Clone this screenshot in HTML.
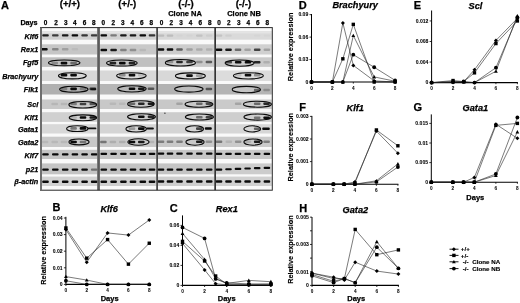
<!DOCTYPE html>
<html><head><meta charset="utf-8"><title>Figure</title>
<style>
html,body{margin:0;padding:0;background:#fff;}
body{width:520px;height:303px;overflow:hidden;}
svg{display:block;}
svg text{font-family:'Liberation Sans', Arial, Helvetica, sans-serif;fill:#000;stroke:#000;stroke-width:0.25px;}
</style></head><body>
<svg width="520" height="303" viewBox="0 0 520 303">
<rect width="520" height="303" fill="#fff"/>
<g>
<rect x="40.5" y="27.6" width="231.8" height="162.6" fill="#f9f9f9"/>
<rect x="41" y="31.2" width="56.2" height="8.5" fill="#d0d0d0"/>
<rect x="41" y="31.2" width="56.2" height="2.2" fill="#e4e4e4"/>
<rect x="99.8" y="31.2" width="56.5" height="8.5" fill="#d2d2d2"/>
<rect x="99.8" y="31.2" width="56.5" height="2.2" fill="#e4e4e4"/>
<rect x="157.9" y="31.2" width="56.4" height="8.5" fill="#d8d8d8"/>
<rect x="157.9" y="31.2" width="56.4" height="2.2" fill="#e4e4e4"/>
<rect x="216" y="31.2" width="55.8" height="8.5" fill="#dadada"/>
<rect x="216" y="31.2" width="55.8" height="2.2" fill="#e4e4e4"/>
<rect x="42.2" y="34.2" width="6.6" height="2.4" rx="1" fill="#000" fill-opacity="0.85"/>
<rect x="52" y="34.2" width="6.6" height="2.4" rx="1" fill="#000" fill-opacity="0.71"/>
<rect x="61.9" y="34.2" width="6.6" height="2.4" rx="1" fill="#000" fill-opacity="0.88"/>
<rect x="71.6" y="34.2" width="6.6" height="2.4" rx="1" fill="#000" fill-opacity="0.95"/>
<rect x="81.3" y="34.2" width="6.6" height="2.4" rx="1" fill="#000" fill-opacity="0.74"/>
<rect x="90.9" y="34.2" width="6.6" height="2.4" rx="1" fill="#000" fill-opacity="0.71"/>
<rect x="100.5" y="34.2" width="6.6" height="2.4" rx="1" fill="#000" fill-opacity="0.95"/>
<rect x="110.3" y="34.2" width="6.6" height="2.4" rx="1" fill="#000" fill-opacity="0.41"/>
<rect x="120.1" y="34.2" width="6.6" height="2.4" rx="1" fill="#000" fill-opacity="0.88"/>
<rect x="129.7" y="34.2" width="6.6" height="2.4" rx="1" fill="#000" fill-opacity="0.88"/>
<rect x="139.5" y="34.2" width="6.6" height="2.4" rx="1" fill="#000" fill-opacity="0.95"/>
<rect x="148.7" y="34.2" width="6.6" height="2.4" rx="1" fill="#000" fill-opacity="0.74"/>
<rect x="157.7" y="34.4" width="6.6" height="2.4" rx="1" fill="#000" fill-opacity="0.13"/>
<rect x="166.7" y="34.4" width="6.6" height="2.4" rx="1" fill="#000" fill-opacity="0.13"/>
<rect x="176.2" y="34.4" width="6.6" height="2.4" rx="1" fill="#000" fill-opacity="0.02"/>
<rect x="186.2" y="34.4" width="6.6" height="2.4" rx="1" fill="#000" fill-opacity="0.02"/>
<rect x="196" y="34.4" width="6.6" height="2.4" rx="1" fill="#000" fill-opacity="0.1"/>
<rect x="205.9" y="34.4" width="6.6" height="2.4" rx="1" fill="#000" fill-opacity="0.05"/>
<rect x="215.7" y="34.4" width="6.6" height="2.4" rx="1" fill="#000" fill-opacity="0.1"/>
<rect x="225.2" y="34.4" width="6.6" height="2.4" rx="1" fill="#000" fill-opacity="0.05"/>
<rect x="253.9" y="34.4" width="6.6" height="2.4" rx="1" fill="#000" fill-opacity="0.02"/>
<rect x="263.6" y="34.4" width="6.6" height="2.4" rx="1" fill="#000" fill-opacity="0.02"/>
<rect x="41" y="44.3" width="56.2" height="10.2" fill="#c6c6c6"/>
<rect x="99.8" y="44.3" width="56.5" height="10.2" fill="#c8c8c8"/>
<rect x="157.9" y="44.3" width="56.4" height="10.2" fill="#cccccc"/>
<rect x="216" y="44.3" width="55.8" height="10.2" fill="#d0d0d0"/>
<rect x="41.1" y="47.95" width="6.6" height="2.5" rx="1" fill="#000" fill-opacity="0.95"/>
<rect x="52" y="47.95" width="6.6" height="2.5" rx="1" fill="#000" fill-opacity="0.32"/>
<rect x="61.9" y="47.95" width="6.6" height="2.5" rx="1" fill="#000" fill-opacity="0.19"/>
<rect x="71.6" y="47.95" width="6.6" height="2.5" rx="1" fill="#000" fill-opacity="0.05"/>
<rect x="100.5" y="48.75" width="6.6" height="2.5" rx="1" fill="#000" fill-opacity="0.95"/>
<rect x="110.3" y="48.75" width="6.6" height="2.5" rx="1" fill="#000" fill-opacity="0.88"/>
<rect x="120.1" y="48.75" width="6.6" height="2.5" rx="1" fill="#000" fill-opacity="0.35"/>
<rect x="129.7" y="48.75" width="6.6" height="2.5" rx="1" fill="#000" fill-opacity="0.28"/>
<rect x="139.5" y="48.75" width="6.6" height="2.5" rx="1" fill="#000" fill-opacity="0.08"/>
<rect x="157.7" y="48.25" width="6.6" height="2.5" rx="1" fill="#000" fill-opacity="0.95"/>
<rect x="166.7" y="48.25" width="6.6" height="2.5" rx="1" fill="#000" fill-opacity="0.95"/>
<rect x="176.2" y="48.25" width="6.6" height="2.5" rx="1" fill="#000" fill-opacity="0.54"/>
<rect x="186.2" y="48.25" width="6.6" height="2.5" rx="1" fill="#000" fill-opacity="0.22"/>
<rect x="196" y="48.25" width="6.6" height="2.5" rx="1" fill="#000" fill-opacity="0.16"/>
<rect x="205.9" y="48.25" width="6.6" height="2.5" rx="1" fill="#000" fill-opacity="0.13"/>
<rect x="215.7" y="48.55" width="6.6" height="2.5" rx="1" fill="#000" fill-opacity="0.95"/>
<rect x="225.2" y="48.55" width="6.6" height="2.5" rx="1" fill="#000" fill-opacity="0.88"/>
<rect x="234.7" y="48.55" width="6.6" height="2.5" rx="1" fill="#000" fill-opacity="0.48"/>
<rect x="244.3" y="48.55" width="6.6" height="2.5" rx="1" fill="#000" fill-opacity="0.22"/>
<rect x="253.9" y="48.55" width="6.6" height="2.5" rx="1" fill="#000" fill-opacity="0.68"/>
<rect x="263.6" y="48.55" width="6.6" height="2.5" rx="1" fill="#000" fill-opacity="0.22"/>
<rect x="41" y="57.3" width="56.2" height="9.6" fill="#bebebe"/>
<rect x="99.8" y="57.3" width="56.5" height="9.6" fill="#c0c0c0"/>
<rect x="157.9" y="57.3" width="56.4" height="9.6" fill="#c8c8c8"/>
<rect x="216" y="57.3" width="55.8" height="9.6" fill="#cacaca"/>
<rect x="51.4" y="61.8" width="6.6" height="2.6" rx="1" fill="#000" fill-opacity="0.28"/>
<rect x="60.7" y="61.8" width="6.6" height="2.6" rx="1" fill="#000" fill-opacity="0.95"/>
<rect x="70.3" y="61.8" width="6.6" height="2.6" rx="1" fill="#000" fill-opacity="0.44"/>
<rect x="109.6" y="61.8" width="6.6" height="2.6" rx="1" fill="#000" fill-opacity="0.81"/>
<rect x="119" y="61.8" width="6.6" height="2.6" rx="1" fill="#000" fill-opacity="0.95"/>
<rect x="128.7" y="61.8" width="6.6" height="2.6" rx="1" fill="#000" fill-opacity="0.81"/>
<rect x="166.7" y="60.7" width="6.6" height="2.6" rx="1" fill="#000" fill-opacity="0.28"/>
<rect x="176.2" y="60.7" width="6.6" height="2.6" rx="1" fill="#000" fill-opacity="0.81"/>
<rect x="186.2" y="60.7" width="6.6" height="2.6" rx="1" fill="#000" fill-opacity="0.68"/>
<rect x="196" y="60.7" width="6.6" height="2.6" rx="1" fill="#000" fill-opacity="0.28"/>
<rect x="205.6" y="60.7" width="6.6" height="2.6" rx="1" fill="#000" fill-opacity="0.54"/>
<rect x="225.5" y="61" width="6.6" height="2.6" rx="1" fill="#000" fill-opacity="0.61"/>
<rect x="234.9" y="61" width="6.6" height="2.6" rx="1" fill="#000" fill-opacity="0.95"/>
<rect x="244.7" y="61" width="6.6" height="2.6" rx="1" fill="#000" fill-opacity="0.95"/>
<rect x="253.9" y="61" width="6.6" height="2.6" rx="1" fill="#000" fill-opacity="0.81"/>
<rect x="263.3" y="61" width="6.6" height="2.6" rx="1" fill="#000" fill-opacity="0.13"/>
<ellipse cx="64.2" cy="62.85" rx="15.75" ry="2.9" fill="none" stroke="#0a0a0a" stroke-width="1.05"/>
<ellipse cx="121.85" cy="63" rx="15.3" ry="3.05" fill="none" stroke="#0a0a0a" stroke-width="1.05"/>
<ellipse cx="180.4" cy="62.8" rx="15.05" ry="3.25" fill="none" stroke="#0a0a0a" stroke-width="1.05"/>
<ellipse cx="239.6" cy="63.1" rx="14.45" ry="3.15" fill="none" stroke="#0a0a0a" stroke-width="1.05"/>
<rect x="41" y="70.5" width="56.2" height="10.5" fill="#d8d8d8"/>
<rect x="99.8" y="70.5" width="56.5" height="10.5" fill="#d8d8d8"/>
<rect x="157.9" y="70.5" width="56.4" height="10.5" fill="#d8d8d8"/>
<rect x="216" y="70.5" width="55.8" height="10.5" fill="#dcdcdc"/>
<rect x="60.7" y="73.75" width="6.6" height="2.7" rx="1" fill="#000" fill-opacity="0.95"/>
<rect x="70.3" y="73.75" width="6.6" height="2.7" rx="1" fill="#000" fill-opacity="0.95"/>
<rect x="119" y="73.85" width="6.6" height="2.7" rx="1" fill="#000" fill-opacity="0.35"/>
<rect x="128.7" y="73.85" width="6.6" height="2.7" rx="1" fill="#000" fill-opacity="0.95"/>
<rect x="138" y="73.85" width="6.6" height="2.7" rx="1" fill="#000" fill-opacity="0.13"/>
<rect x="186.2" y="74.25" width="6.6" height="2.7" rx="1" fill="#000" fill-opacity="0.95"/>
<rect x="196" y="74.25" width="6.6" height="2.7" rx="1" fill="#000" fill-opacity="0.28"/>
<rect x="234.9" y="73.85" width="6.6" height="2.7" rx="1" fill="#000" fill-opacity="0.13"/>
<rect x="244.7" y="73.85" width="6.6" height="2.7" rx="1" fill="#000" fill-opacity="0.95"/>
<rect x="253.9" y="73.85" width="6.6" height="2.7" rx="1" fill="#000" fill-opacity="0.35"/>
<ellipse cx="72.35" cy="75.75" rx="13.9" ry="3.1" fill="none" stroke="#0a0a0a" stroke-width="1.05"/>
<ellipse cx="131.4" cy="75.8" rx="14.75" ry="3.15" fill="none" stroke="#0a0a0a" stroke-width="1.05"/>
<ellipse cx="190.4" cy="75.9" rx="14.95" ry="3.05" fill="none" stroke="#0a0a0a" stroke-width="1.05"/>
<ellipse cx="248.4" cy="75.8" rx="14.95" ry="3.15" fill="none" stroke="#0a0a0a" stroke-width="1.05"/>
<rect x="41" y="84" width="56.2" height="10.5" fill="#b0b0b0"/>
<rect x="99.8" y="84" width="56.5" height="10.5" fill="#b6b6b6"/>
<rect x="157.9" y="84" width="56.4" height="10.5" fill="#b2b2b2"/>
<rect x="216" y="84" width="55.8" height="10.5" fill="#b4b4b4"/>
<ellipse cx="188.85" cy="89.1" rx="14.25" ry="3.1" fill="#bcbcbc"/>
<ellipse cx="246.35" cy="89.55" rx="14.15" ry="3.25" fill="#c4c4c4"/>
<rect x="60.7" y="87.6" width="6.6" height="2.6" rx="1" fill="#000" fill-opacity="0.28"/>
<rect x="70.3" y="87.6" width="6.6" height="2.6" rx="1" fill="#000" fill-opacity="0.95"/>
<rect x="79.7" y="87.6" width="6.6" height="2.6" rx="1" fill="#000" fill-opacity="0.28"/>
<rect x="89.5" y="87.6" width="6.6" height="2.6" rx="1" fill="#000" fill-opacity="0.74"/>
<rect x="128.7" y="87.4" width="6.6" height="2.6" rx="1" fill="#000" fill-opacity="0.95"/>
<rect x="138" y="87.4" width="6.6" height="2.6" rx="1" fill="#000" fill-opacity="0.88"/>
<rect x="147.7" y="87.4" width="6.6" height="2.6" rx="1" fill="#000" fill-opacity="0.54"/>
<rect x="205.6" y="87.7" width="6.6" height="2.6" rx="1" fill="#000" fill-opacity="0.54"/>
<rect x="253.9" y="88.7" width="6.6" height="2.6" rx="1" fill="#000" fill-opacity="0.48"/>
<rect x="263.3" y="88.7" width="6.6" height="2.6" rx="1" fill="#000" fill-opacity="0.22"/>
<ellipse cx="73.85" cy="89.25" rx="14.2" ry="3" fill="none" stroke="#0a0a0a" stroke-width="1.05"/>
<ellipse cx="131.95" cy="88.85" rx="14.2" ry="3.1" fill="none" stroke="#0a0a0a" stroke-width="1.05"/>
<ellipse cx="188.85" cy="89.1" rx="14.2" ry="3.05" fill="none" stroke="#0a0a0a" stroke-width="1.05"/>
<ellipse cx="246.35" cy="89.55" rx="14.1" ry="3.2" fill="none" stroke="#0a0a0a" stroke-width="1.05"/>
<rect x="41" y="99.5" width="56.2" height="9.5" fill="#c8c8c8"/>
<rect x="99.8" y="99.5" width="56.5" height="9.5" fill="#c8c8c8"/>
<rect x="157.9" y="99.5" width="56.4" height="9.5" fill="#c8c8c8"/>
<rect x="216" y="99.5" width="55.8" height="9.5" fill="#cacaca"/>
<rect x="51.4" y="102.75" width="6.6" height="2.5" rx="1" fill="#000" fill-opacity="0.09"/>
<rect x="60.7" y="102.75" width="6.6" height="2.5" rx="1" fill="#000" fill-opacity="0.09"/>
<rect x="70.3" y="102.75" width="6.6" height="2.5" rx="1" fill="#000" fill-opacity="0.38"/>
<rect x="79.7" y="102.75" width="6.6" height="2.5" rx="1" fill="#000" fill-opacity="0.68"/>
<rect x="89.5" y="102.75" width="6.6" height="2.5" rx="1" fill="#000" fill-opacity="0.57"/>
<rect x="109.6" y="102.45" width="6.6" height="2.5" rx="1" fill="#000" fill-opacity="0.08"/>
<rect x="119" y="102.45" width="6.6" height="2.5" rx="1" fill="#000" fill-opacity="0.08"/>
<rect x="128.7" y="102.45" width="6.6" height="2.5" rx="1" fill="#000" fill-opacity="0.48"/>
<rect x="138" y="102.45" width="6.6" height="2.5" rx="1" fill="#000" fill-opacity="0.81"/>
<rect x="147.7" y="102.45" width="6.6" height="2.5" rx="1" fill="#000" fill-opacity="0.88"/>
<rect x="176.2" y="102.45" width="6.6" height="2.5" rx="1" fill="#000" fill-opacity="0.19"/>
<rect x="196" y="102.45" width="6.6" height="2.5" rx="1" fill="#000" fill-opacity="0.48"/>
<rect x="205.6" y="102.45" width="6.6" height="2.5" rx="1" fill="#000" fill-opacity="0.64"/>
<rect x="234.9" y="102.45" width="6.6" height="2.5" rx="1" fill="#000" fill-opacity="0.19"/>
<rect x="253.9" y="102.45" width="6.6" height="2.5" rx="1" fill="#000" fill-opacity="0.48"/>
<rect x="263.3" y="102.45" width="6.6" height="2.5" rx="1" fill="#000" fill-opacity="0.81"/>
<ellipse cx="82.75" cy="104.75" rx="13.9" ry="3.2" fill="none" stroke="#0a0a0a" stroke-width="1.05"/>
<ellipse cx="140.9" cy="103.95" rx="13.35" ry="3.2" fill="none" stroke="#0a0a0a" stroke-width="1.05"/>
<ellipse cx="198.95" cy="104.15" rx="13.9" ry="3" fill="none" stroke="#0a0a0a" stroke-width="1.05"/>
<ellipse cx="257.4" cy="104.15" rx="14.05" ry="3" fill="none" stroke="#0a0a0a" stroke-width="1.05"/>
<rect x="41" y="112.2" width="56.2" height="9.7" fill="#d0d0d0"/>
<rect x="99.8" y="112.2" width="56.5" height="9.7" fill="#cccccc"/>
<rect x="157.9" y="112.2" width="56.4" height="9.7" fill="#cccccc"/>
<rect x="216" y="112.2" width="55.8" height="9.7" fill="#cecece"/>
<rect x="70.3" y="116.25" width="6.6" height="2.5" rx="1" fill="#000" fill-opacity="0.13"/>
<rect x="79.7" y="116.25" width="6.6" height="2.5" rx="1" fill="#000" fill-opacity="0.95"/>
<rect x="89.5" y="116.25" width="6.6" height="2.5" rx="1" fill="#000" fill-opacity="0.88"/>
<rect x="138" y="115.55" width="6.6" height="2.5" rx="1" fill="#000" fill-opacity="0.95"/>
<rect x="147.7" y="115.55" width="6.6" height="2.5" rx="1" fill="#000" fill-opacity="0.81"/>
<rect x="196" y="115.95" width="6.6" height="2.5" rx="1" fill="#000" fill-opacity="0.48"/>
<rect x="205.6" y="115.95" width="6.6" height="2.5" rx="1" fill="#000" fill-opacity="0.68"/>
<rect x="253.9" y="116.45" width="6.6" height="2.5" rx="1" fill="#000" fill-opacity="0.44"/>
<rect x="263.3" y="116.45" width="6.6" height="2.5" rx="1" fill="#000" fill-opacity="0.95"/>
<ellipse cx="82.95" cy="117.75" rx="13.7" ry="2.9" fill="none" stroke="#0a0a0a" stroke-width="1.05"/>
<ellipse cx="141.5" cy="116.85" rx="13.95" ry="3.1" fill="none" stroke="#0a0a0a" stroke-width="1.05"/>
<ellipse cx="199.4" cy="117" rx="14.05" ry="2.95" fill="none" stroke="#0a0a0a" stroke-width="1.05"/>
<ellipse cx="257.65" cy="117.1" rx="13.8" ry="3.05" fill="none" stroke="#0a0a0a" stroke-width="1.05"/>
<rect x="41" y="124.2" width="56.2" height="9.3" fill="#d8d8d8"/>
<rect x="99.8" y="124.2" width="56.5" height="9.3" fill="#d4d4d4"/>
<rect x="157.9" y="124.2" width="56.4" height="9.3" fill="#d4d4d4"/>
<rect x="216" y="124.2" width="55.8" height="9.3" fill="#d6d6d6"/>
<rect x="70.3" y="127.1" width="6.6" height="2.6" rx="1" fill="#000" fill-opacity="0.44"/>
<rect x="79.7" y="127.1" width="6.6" height="2.6" rx="1" fill="#000" fill-opacity="0.95"/>
<rect x="128.7" y="127.3" width="6.6" height="2.6" rx="1" fill="#000" fill-opacity="0.28"/>
<rect x="138" y="127.3" width="6.6" height="2.6" rx="1" fill="#000" fill-opacity="0.95"/>
<rect x="196" y="127.3" width="6.6" height="2.6" rx="1" fill="#000" fill-opacity="0.68"/>
<rect x="253.9" y="127.5" width="6.6" height="2.6" rx="1" fill="#000" fill-opacity="0.54"/>
<ellipse cx="77.3" cy="128.65" rx="10.75" ry="2.9" fill="none" stroke="#0a0a0a" stroke-width="1.05"/>
<ellipse cx="136.15" cy="128.9" rx="10.3" ry="3.05" fill="none" stroke="#0a0a0a" stroke-width="1.05"/>
<ellipse cx="194.55" cy="128.9" rx="9" ry="3.05" fill="none" stroke="#0a0a0a" stroke-width="1.05"/>
<ellipse cx="252.3" cy="128.9" rx="8.45" ry="3.05" fill="none" stroke="#0a0a0a" stroke-width="1.05"/>
<rect x="41" y="136.7" width="56.2" height="10.3" fill="#c8c8c8"/>
<rect x="99.8" y="136.7" width="56.5" height="10.3" fill="#c8c8c8"/>
<rect x="157.9" y="136.7" width="56.4" height="10.3" fill="#c8c8c8"/>
<rect x="216" y="136.7" width="55.8" height="10.3" fill="#cacaca"/>
<rect x="41.7" y="140.75" width="6.6" height="2.5" rx="1" fill="#000" fill-opacity="0.08"/>
<rect x="51.4" y="140.75" width="6.6" height="2.5" rx="1" fill="#000" fill-opacity="0.08"/>
<rect x="60.7" y="140.75" width="6.6" height="2.5" rx="1" fill="#000" fill-opacity="0.08"/>
<rect x="70.3" y="140.75" width="6.6" height="2.5" rx="1" fill="#000" fill-opacity="0.95"/>
<rect x="79.7" y="140.75" width="6.6" height="2.5" rx="1" fill="#000" fill-opacity="0.41"/>
<rect x="100.1" y="140.75" width="6.6" height="2.5" rx="1" fill="#000" fill-opacity="0.41"/>
<rect x="109.6" y="140.75" width="6.6" height="2.5" rx="1" fill="#000" fill-opacity="0.13"/>
<rect x="119" y="140.75" width="6.6" height="2.5" rx="1" fill="#000" fill-opacity="0.13"/>
<rect x="128.7" y="140.75" width="6.6" height="2.5" rx="1" fill="#000" fill-opacity="0.95"/>
<rect x="138" y="140.75" width="6.6" height="2.5" rx="1" fill="#000" fill-opacity="0.88"/>
<rect x="147.7" y="140.75" width="6.6" height="2.5" rx="1" fill="#000" fill-opacity="0.1"/>
<rect x="157.7" y="140.45" width="6.6" height="2.5" rx="1" fill="#000" fill-opacity="0.38"/>
<rect x="166.7" y="140.45" width="6.6" height="2.5" rx="1" fill="#000" fill-opacity="0.38"/>
<rect x="176.2" y="140.45" width="6.6" height="2.5" rx="1" fill="#000" fill-opacity="0.38"/>
<rect x="196" y="140.45" width="6.6" height="2.5" rx="1" fill="#000" fill-opacity="0.88"/>
<rect x="205.6" y="140.45" width="6.6" height="2.5" rx="1" fill="#000" fill-opacity="0.28"/>
<rect x="215.7" y="140.45" width="6.6" height="2.5" rx="1" fill="#000" fill-opacity="0.41"/>
<rect x="225.5" y="140.45" width="6.6" height="2.5" rx="1" fill="#000" fill-opacity="0.1"/>
<rect x="234.9" y="140.45" width="6.6" height="2.5" rx="1" fill="#000" fill-opacity="0.28"/>
<rect x="244.7" y="140.45" width="6.6" height="2.5" rx="1" fill="#000" fill-opacity="0.13"/>
<rect x="253.9" y="140.45" width="6.6" height="2.5" rx="1" fill="#000" fill-opacity="0.88"/>
<rect x="263.3" y="140.45" width="6.6" height="2.5" rx="1" fill="#000" fill-opacity="0.38"/>
<ellipse cx="79" cy="141.95" rx="10.15" ry="2.9" fill="none" stroke="#0a0a0a" stroke-width="1.05"/>
<ellipse cx="138.45" cy="141.95" rx="10.6" ry="3.2" fill="none" stroke="#0a0a0a" stroke-width="1.05"/>
<ellipse cx="195" cy="142.1" rx="9.15" ry="3.05" fill="none" stroke="#0a0a0a" stroke-width="1.05"/>
<ellipse cx="253" cy="142.1" rx="9.15" ry="3.05" fill="none" stroke="#0a0a0a" stroke-width="1.05"/>
<rect x="41" y="149.8" width="56.2" height="9.2" fill="#c4c4c4"/>
<rect x="99.8" y="149.8" width="56.5" height="9.2" fill="#c4c4c4"/>
<rect x="157.9" y="149.8" width="56.4" height="9.2" fill="#c6c6c6"/>
<rect x="216" y="149.8" width="55.8" height="9.2" fill="#c8c8c8"/>
<rect x="42.2" y="153.2" width="6.6" height="2.2" rx="1" fill="#000" fill-opacity="0.95"/>
<rect x="52" y="153.2" width="6.6" height="2.2" rx="1" fill="#000" fill-opacity="0.95"/>
<rect x="61.9" y="153.2" width="6.6" height="2.2" rx="1" fill="#000" fill-opacity="0.95"/>
<rect x="71.6" y="153.2" width="6.6" height="2.2" rx="1" fill="#000" fill-opacity="0.95"/>
<rect x="81.3" y="153.2" width="6.6" height="2.2" rx="1" fill="#000" fill-opacity="0.95"/>
<rect x="90.9" y="153.2" width="6.6" height="2.2" rx="1" fill="#000" fill-opacity="0.95"/>
<rect x="100.5" y="152.7" width="6.6" height="2.2" rx="1" fill="#000" fill-opacity="0.95"/>
<rect x="110.3" y="152.7" width="6.6" height="2.2" rx="1" fill="#000" fill-opacity="0.95"/>
<rect x="120.1" y="152.7" width="6.6" height="2.2" rx="1" fill="#000" fill-opacity="0.95"/>
<rect x="129.7" y="152.7" width="6.6" height="2.2" rx="1" fill="#000" fill-opacity="0.95"/>
<rect x="139.5" y="152.7" width="6.6" height="2.2" rx="1" fill="#000" fill-opacity="0.95"/>
<rect x="148.7" y="152.7" width="6.6" height="2.2" rx="1" fill="#000" fill-opacity="0.95"/>
<rect x="157.7" y="152.5" width="6.6" height="2.2" rx="1" fill="#000" fill-opacity="0.95"/>
<rect x="166.7" y="152.5" width="6.6" height="2.2" rx="1" fill="#000" fill-opacity="0.95"/>
<rect x="176.2" y="152.5" width="6.6" height="2.2" rx="1" fill="#000" fill-opacity="0.95"/>
<rect x="186.2" y="152.5" width="6.6" height="2.2" rx="1" fill="#000" fill-opacity="0.95"/>
<rect x="196" y="152.5" width="6.6" height="2.2" rx="1" fill="#000" fill-opacity="0.95"/>
<rect x="205.9" y="152.5" width="6.6" height="2.2" rx="1" fill="#000" fill-opacity="0.95"/>
<rect x="215.7" y="152.7" width="6.6" height="2.2" rx="1" fill="#000" fill-opacity="0.95"/>
<rect x="225.2" y="152.7" width="6.6" height="2.2" rx="1" fill="#000" fill-opacity="0.95"/>
<rect x="234.7" y="152.7" width="6.6" height="2.2" rx="1" fill="#000" fill-opacity="0.95"/>
<rect x="244.3" y="152.7" width="6.6" height="2.2" rx="1" fill="#000" fill-opacity="0.95"/>
<rect x="253.9" y="152.7" width="6.6" height="2.2" rx="1" fill="#000" fill-opacity="0.95"/>
<rect x="263.6" y="152.7" width="6.6" height="2.2" rx="1" fill="#000" fill-opacity="0.95"/>
<rect x="41" y="163.4" width="56.2" height="10.9" fill="#c4c4c4"/>
<rect x="99.8" y="163.4" width="56.5" height="10.9" fill="#c2c2c2"/>
<rect x="157.9" y="163.4" width="56.4" height="10.9" fill="#c4c4c4"/>
<rect x="216" y="163.4" width="55.8" height="10.9" fill="#cccccc"/>
<rect x="42.2" y="168.5" width="6.6" height="2.2" rx="1" fill="#000" fill-opacity="0.95"/>
<rect x="52" y="168.5" width="6.6" height="2.2" rx="1" fill="#000" fill-opacity="0.95"/>
<rect x="61.9" y="168.5" width="6.6" height="2.2" rx="1" fill="#000" fill-opacity="0.95"/>
<rect x="71.6" y="168.5" width="6.6" height="2.2" rx="1" fill="#000" fill-opacity="0.95"/>
<rect x="81.3" y="168.5" width="6.6" height="2.2" rx="1" fill="#000" fill-opacity="0.95"/>
<rect x="90.9" y="168.5" width="6.6" height="2.2" rx="1" fill="#000" fill-opacity="0.44"/>
<rect x="100.5" y="168.5" width="6.6" height="2.2" rx="1" fill="#000" fill-opacity="0.95"/>
<rect x="110.3" y="168.5" width="6.6" height="2.2" rx="1" fill="#000" fill-opacity="0.95"/>
<rect x="120.1" y="168.5" width="6.6" height="2.2" rx="1" fill="#000" fill-opacity="0.95"/>
<rect x="129.7" y="168.5" width="6.6" height="2.2" rx="1" fill="#000" fill-opacity="0.95"/>
<rect x="139.5" y="168.5" width="6.6" height="2.2" rx="1" fill="#000" fill-opacity="0.95"/>
<rect x="148.7" y="168.5" width="6.6" height="2.2" rx="1" fill="#000" fill-opacity="0.95"/>
<rect x="157.7" y="168.5" width="6.6" height="2.2" rx="1" fill="#000" fill-opacity="0.95"/>
<rect x="166.7" y="168.5" width="6.6" height="2.2" rx="1" fill="#000" fill-opacity="0.95"/>
<rect x="176.2" y="168.5" width="6.6" height="2.2" rx="1" fill="#000" fill-opacity="0.95"/>
<rect x="186.2" y="168.5" width="6.6" height="2.2" rx="1" fill="#000" fill-opacity="0.95"/>
<rect x="196" y="168.5" width="6.6" height="2.2" rx="1" fill="#000" fill-opacity="0.95"/>
<rect x="205.9" y="168.5" width="6.6" height="2.2" rx="1" fill="#000" fill-opacity="0.95"/>
<rect x="215.7" y="168.5" width="6.6" height="2.2" rx="1" fill="#000" fill-opacity="0.95"/>
<rect x="225.2" y="168.14" width="6.6" height="2.2" rx="1" fill="#000" fill-opacity="0.95"/>
<rect x="234.7" y="167.78" width="6.6" height="2.2" rx="1" fill="#000" fill-opacity="0.95"/>
<rect x="244.3" y="167.42" width="6.6" height="2.2" rx="1" fill="#000" fill-opacity="0.95"/>
<rect x="253.9" y="167.06" width="6.6" height="2.2" rx="1" fill="#000" fill-opacity="0.95"/>
<rect x="263.6" y="166.7" width="6.6" height="2.2" rx="1" fill="#000" fill-opacity="0.95"/>
<rect x="41" y="176.6" width="56.2" height="9.4" fill="#d2d2d2"/>
<rect x="99.8" y="176.6" width="56.5" height="9.4" fill="#cecece"/>
<rect x="157.9" y="176.6" width="56.4" height="9.4" fill="#cecece"/>
<rect x="216" y="176.6" width="55.8" height="9.4" fill="#d0d0d0"/>
<rect x="42.2" y="180.45" width="6.6" height="2.5" rx="1" fill="#000" fill-opacity="0.95"/>
<rect x="52" y="180.45" width="6.6" height="2.5" rx="1" fill="#000" fill-opacity="0.95"/>
<rect x="61.9" y="180.45" width="6.6" height="2.5" rx="1" fill="#000" fill-opacity="0.95"/>
<rect x="71.6" y="180.45" width="6.6" height="2.5" rx="1" fill="#000" fill-opacity="0.95"/>
<rect x="81.3" y="180.45" width="6.6" height="2.5" rx="1" fill="#000" fill-opacity="0.95"/>
<rect x="90.9" y="180.45" width="6.6" height="2.5" rx="1" fill="#000" fill-opacity="0.95"/>
<rect x="100.5" y="180.45" width="6.6" height="2.5" rx="1" fill="#000" fill-opacity="0.95"/>
<rect x="110.3" y="180.45" width="6.6" height="2.5" rx="1" fill="#000" fill-opacity="0.95"/>
<rect x="120.1" y="180.45" width="6.6" height="2.5" rx="1" fill="#000" fill-opacity="0.95"/>
<rect x="129.7" y="180.45" width="6.6" height="2.5" rx="1" fill="#000" fill-opacity="0.95"/>
<rect x="139.5" y="180.45" width="6.6" height="2.5" rx="1" fill="#000" fill-opacity="0.95"/>
<rect x="148.7" y="180.45" width="6.6" height="2.5" rx="1" fill="#000" fill-opacity="0.95"/>
<rect x="157.7" y="180.35" width="6.6" height="2.5" rx="1" fill="#000" fill-opacity="0.95"/>
<rect x="166.7" y="180.35" width="6.6" height="2.5" rx="1" fill="#000" fill-opacity="0.95"/>
<rect x="176.2" y="180.35" width="6.6" height="2.5" rx="1" fill="#000" fill-opacity="0.95"/>
<rect x="186.2" y="180.35" width="6.6" height="2.5" rx="1" fill="#000" fill-opacity="0.95"/>
<rect x="196" y="180.35" width="6.6" height="2.5" rx="1" fill="#000" fill-opacity="0.95"/>
<rect x="205.9" y="180.35" width="6.6" height="2.5" rx="1" fill="#000" fill-opacity="0.95"/>
<rect x="215.7" y="180.35" width="6.6" height="2.5" rx="1" fill="#000" fill-opacity="0.95"/>
<rect x="225.2" y="180.35" width="6.6" height="2.5" rx="1" fill="#000" fill-opacity="0.95"/>
<rect x="234.7" y="180.35" width="6.6" height="2.5" rx="1" fill="#000" fill-opacity="0.95"/>
<rect x="244.3" y="180.35" width="6.6" height="2.5" rx="1" fill="#000" fill-opacity="0.95"/>
<rect x="253.9" y="180.35" width="6.6" height="2.5" rx="1" fill="#000" fill-opacity="0.95"/>
<rect x="263.6" y="180.35" width="6.6" height="2.5" rx="1" fill="#000" fill-opacity="0.95"/>
<rect x="87.6" y="127.45" width="8.8" height="1.9" rx="1" fill="#000" fill-opacity="0.92"/>
<rect x="146.4" y="127.6" width="7.5" height="2" rx="1" fill="#000" fill-opacity="0.92"/>
<rect x="204.8" y="127.35" width="7" height="2.5" rx="1" fill="#000" fill-opacity="0.95"/>
<rect x="262.2" y="127.55" width="7.6" height="2.5" rx="1" fill="#000" fill-opacity="0.95"/>
<rect x="90.9" y="88.3" width="5.4" height="2" rx="1" fill="#000" fill-opacity="0.6"/>
<rect x="164.2" y="112.55" width="1.4" height="1.3" rx="1" fill="#000" fill-opacity="0.8"/>
<rect x="97.2" y="27.6" width="2.7" height="162.6" fill="#5a5a5a"/>
<rect x="156.3" y="27.6" width="1.6" height="162.6" fill="#333"/>
<rect x="214.3" y="27.6" width="1.7" height="162.6" fill="#333"/>
<rect x="40.5" y="27.6" width="231.8" height="162.6" fill="none" stroke="#2a2a2a" stroke-width="1"/>
<rect x="40.0" y="27.6" width="2.0" height="162.6" fill="#6e6e6e"/>
</g>
<text x="38.3" y="38.9" font-size="7.3" font-weight="bold" font-style="italic" text-anchor="end">Klf6</text>
<text x="38.3" y="52.4" font-size="7.3" font-weight="bold" font-style="italic" text-anchor="end">Rex1</text>
<text x="38.3" y="64.8" font-size="7.3" font-weight="bold" font-style="italic" text-anchor="end">Fgf5</text>
<text x="38.3" y="78.5" font-size="7.3" font-weight="bold" font-style="italic" text-anchor="end">Brachyury</text>
<text x="38.3" y="92.4" font-size="7.3" font-weight="bold" font-style="italic" text-anchor="end">Flk1</text>
<text x="38.3" y="107.2" font-size="7.3" font-weight="bold" font-style="italic" text-anchor="end">Scl</text>
<text x="38.3" y="119.7" font-size="7.3" font-weight="bold" font-style="italic" text-anchor="end">Klf1</text>
<text x="38.3" y="131.9" font-size="7.3" font-weight="bold" font-style="italic" text-anchor="end">Gata1</text>
<text x="38.3" y="144.6" font-size="7.3" font-weight="bold" font-style="italic" text-anchor="end">Gata2</text>
<text x="38.3" y="157.8" font-size="7.3" font-weight="bold" font-style="italic" text-anchor="end">Klf7</text>
<text x="38.3" y="172" font-size="7.3" font-weight="bold" font-style="italic" text-anchor="end">p21</text>
<text x="38.3" y="184.2" font-size="7.3" font-weight="bold" font-style="italic" text-anchor="end">&#946;-actin</text>
<text x="1" y="9.2" font-size="11" font-weight="bold" text-anchor="start">A</text>
<text x="37.6" y="24.9" font-size="7.2" font-weight="bold" text-anchor="end">Days</text>
<text x="45.5" y="24.9" font-size="6.4" font-weight="bold" text-anchor="middle">0</text>
<text x="56" y="24.9" font-size="6.4" font-weight="bold" text-anchor="middle">2</text>
<text x="65.7" y="24.9" font-size="6.4" font-weight="bold" text-anchor="middle">3</text>
<text x="74.7" y="24.9" font-size="6.4" font-weight="bold" text-anchor="middle">4</text>
<text x="84.5" y="24.9" font-size="6.4" font-weight="bold" text-anchor="middle">6</text>
<text x="93.8" y="24.9" font-size="6.4" font-weight="bold" text-anchor="middle">8</text>
<text x="103.3" y="24.9" font-size="6.4" font-weight="bold" text-anchor="middle">0</text>
<text x="113.3" y="24.9" font-size="6.4" font-weight="bold" text-anchor="middle">2</text>
<text x="122.7" y="24.9" font-size="6.4" font-weight="bold" text-anchor="middle">3</text>
<text x="132.2" y="24.9" font-size="6.4" font-weight="bold" text-anchor="middle">4</text>
<text x="141.8" y="24.9" font-size="6.4" font-weight="bold" text-anchor="middle">6</text>
<text x="151.3" y="24.9" font-size="6.4" font-weight="bold" text-anchor="middle">8</text>
<text x="161.6" y="24.9" font-size="6.4" font-weight="bold" text-anchor="middle">0</text>
<text x="171.4" y="24.9" font-size="6.4" font-weight="bold" text-anchor="middle">2</text>
<text x="181" y="24.9" font-size="6.4" font-weight="bold" text-anchor="middle">3</text>
<text x="190.5" y="24.9" font-size="6.4" font-weight="bold" text-anchor="middle">4</text>
<text x="200.3" y="24.9" font-size="6.4" font-weight="bold" text-anchor="middle">6</text>
<text x="209.8" y="24.9" font-size="6.4" font-weight="bold" text-anchor="middle">8</text>
<text x="219.1" y="24.9" font-size="6.4" font-weight="bold" text-anchor="middle">0</text>
<text x="228.9" y="24.9" font-size="6.4" font-weight="bold" text-anchor="middle">2</text>
<text x="238.7" y="24.9" font-size="6.4" font-weight="bold" text-anchor="middle">3</text>
<text x="248.3" y="24.9" font-size="6.4" font-weight="bold" text-anchor="middle">4</text>
<text x="257.8" y="24.9" font-size="6.4" font-weight="bold" text-anchor="middle">6</text>
<text x="267.2" y="24.9" font-size="6.4" font-weight="bold" text-anchor="middle">8</text>
<text x="69.9" y="7" font-size="9.6" font-weight="bold" text-anchor="middle">(+/+)</text>
<text x="127.3" y="7" font-size="9.6" font-weight="bold" text-anchor="middle">(+/-)</text>
<text x="186" y="7" font-size="9.6" font-weight="bold" text-anchor="middle">(-/-)</text>
<text x="243.4" y="7" font-size="9.6" font-weight="bold" text-anchor="middle">(-/-)</text>
<text x="185" y="16.2" font-size="7.5" font-weight="bold" text-anchor="middle">Clone NA</text>
<text x="244" y="16.2" font-size="7.5" font-weight="bold" text-anchor="middle">Clone NB</text>
<text x="52.6" y="211.3" font-size="11" font-weight="bold" text-anchor="start">B</text>
<text x="100.4" y="211.8" font-size="9.2" font-weight="bold" font-style="italic" text-anchor="start">Klf6</text>
<line x1="65.9" y1="216.8" x2="65.9" y2="284.4" stroke="#000" stroke-width="1"/>
<line x1="65.9" y1="284.4" x2="149.76" y2="284.4" stroke="#000" stroke-width="1.1"/>
<line x1="63.9" y1="218" x2="65.9" y2="218" stroke="#000" stroke-width="0.8"/>
<text x="62.7" y="219.8" font-size="5.1" font-weight="bold" text-anchor="end" style="stroke-width:0.05px">0.04</text>
<line x1="63.9" y1="234.6" x2="65.9" y2="234.6" stroke="#000" stroke-width="0.8"/>
<text x="62.7" y="236.4" font-size="5.1" font-weight="bold" text-anchor="end" style="stroke-width:0.05px">0.03</text>
<line x1="63.9" y1="251.2" x2="65.9" y2="251.2" stroke="#000" stroke-width="0.8"/>
<text x="62.7" y="253" font-size="5.1" font-weight="bold" text-anchor="end" style="stroke-width:0.05px">0.02</text>
<line x1="63.9" y1="267.8" x2="65.9" y2="267.8" stroke="#000" stroke-width="0.8"/>
<text x="62.7" y="269.6" font-size="5.1" font-weight="bold" text-anchor="end" style="stroke-width:0.05px">0.01</text>
<line x1="63.9" y1="284.4" x2="65.9" y2="284.4" stroke="#000" stroke-width="0.8"/>
<text x="62.7" y="286.2" font-size="5.1" font-weight="bold" text-anchor="end" style="stroke-width:0.05px">0</text>
<line x1="65.9" y1="284.4" x2="65.9" y2="286" stroke="#000" stroke-width="0.8"/>
<text x="65.9" y="292.2" font-size="4.7" font-weight="bold" text-anchor="middle" style="stroke-width:0.02px">0</text>
<line x1="86.74" y1="284.4" x2="86.74" y2="286" stroke="#000" stroke-width="0.8"/>
<text x="86.74" y="292.2" font-size="4.7" font-weight="bold" text-anchor="middle" style="stroke-width:0.02px">2</text>
<line x1="107.58" y1="284.4" x2="107.58" y2="286" stroke="#000" stroke-width="0.8"/>
<text x="107.58" y="292.2" font-size="4.7" font-weight="bold" text-anchor="middle" style="stroke-width:0.02px">4</text>
<line x1="128.42" y1="284.4" x2="128.42" y2="286" stroke="#000" stroke-width="0.8"/>
<text x="128.42" y="292.2" font-size="4.7" font-weight="bold" text-anchor="middle" style="stroke-width:0.02px">6</text>
<line x1="149.26" y1="284.4" x2="149.26" y2="286" stroke="#000" stroke-width="0.8"/>
<text x="149.26" y="292.2" font-size="4.7" font-weight="bold" text-anchor="middle" style="stroke-width:0.02px">8</text>
<polyline points="65.9,229.62 86.74,262.16 107.58,232.94 128.42,235.1 149.26,219.99" fill="none" stroke="#222" stroke-width="0.6"/>
<polyline points="65.9,227.96 86.74,258.17 107.58,239.58 128.42,264.15 149.26,243.23" fill="none" stroke="#222" stroke-width="0.6"/>
<polyline points="65.9,276.6 86.74,280.08 107.58,284.4 128.42,284.4 149.26,284.4" fill="none" stroke="#222" stroke-width="0.6"/>
<polyline points="65.9,280.75 86.74,284.4 107.58,284.4 128.42,284.4 149.26,284.4" fill="none" stroke="#222" stroke-width="0.6"/>
<polygon points="65.9,227.62 67.9,229.62 65.9,231.62 63.9,229.62" fill="#000"/>
<polygon points="86.74,260.16 88.74,262.16 86.74,264.16 84.74,262.16" fill="#000"/>
<polygon points="107.58,230.94 109.58,232.94 107.58,234.94 105.58,232.94" fill="#000"/>
<polygon points="128.42,233.1 130.42,235.1 128.42,237.1 126.42,235.1" fill="#000"/>
<polygon points="149.26,217.99 151.26,219.99 149.26,221.99 147.26,219.99" fill="#000"/>
<polygon points="65.9,274.7 67.8,278.12 64,278.12" fill="#000"/>
<polygon points="86.74,278.18 88.64,281.6 84.84,281.6" fill="#000"/>
<polygon points="107.58,282.5 109.48,285.92 105.68,285.92" fill="#000"/>
<polygon points="128.42,282.5 130.32,285.92 126.52,285.92" fill="#000"/>
<polygon points="149.26,282.5 151.16,285.92 147.36,285.92" fill="#000"/>
<circle cx="65.9" cy="280.75" r="1.9" fill="#000"/>
<circle cx="86.74" cy="284.4" r="1.9" fill="#000"/>
<circle cx="107.58" cy="284.4" r="1.9" fill="#000"/>
<circle cx="128.42" cy="284.4" r="1.9" fill="#000"/>
<circle cx="149.26" cy="284.4" r="1.9" fill="#000"/>
<rect x="64.2" y="226.26" width="3.4" height="3.4" fill="#000"/>
<rect x="85.04" y="256.47" width="3.4" height="3.4" fill="#000"/>
<rect x="105.88" y="237.88" width="3.4" height="3.4" fill="#000"/>
<rect x="126.72" y="262.45" width="3.4" height="3.4" fill="#000"/>
<rect x="147.56" y="241.53" width="3.4" height="3.4" fill="#000"/>
<text x="0" y="0" font-size="7.3" font-weight="bold" text-anchor="middle" style="stroke-width:0.15px" transform="translate(45.6,250.4) rotate(-90)">Relative expression</text>
<text x="109.6" y="300.5" font-size="7.5" font-weight="bold" text-anchor="middle">Days</text>
<text x="169.7" y="211.5" font-size="11" font-weight="bold" text-anchor="start">C</text>
<text x="215.8" y="211.5" font-size="9.2" font-weight="bold" font-style="italic" text-anchor="start">Rex1</text>
<line x1="182.5" y1="215.4" x2="182.5" y2="285.4" stroke="#000" stroke-width="1"/>
<line x1="182.5" y1="285.4" x2="271.4" y2="285.4" stroke="#000" stroke-width="1.1"/>
<line x1="180.5" y1="225.4" x2="182.5" y2="225.4" stroke="#000" stroke-width="0.8"/>
<text x="179.3" y="227.2" font-size="5.1" font-weight="bold" text-anchor="end" style="stroke-width:0.05px">0.06</text>
<line x1="180.5" y1="245.4" x2="182.5" y2="245.4" stroke="#000" stroke-width="0.8"/>
<text x="179.3" y="247.2" font-size="5.1" font-weight="bold" text-anchor="end" style="stroke-width:0.05px">0.04</text>
<line x1="180.5" y1="265.4" x2="182.5" y2="265.4" stroke="#000" stroke-width="0.8"/>
<text x="179.3" y="267.2" font-size="5.1" font-weight="bold" text-anchor="end" style="stroke-width:0.05px">0.02</text>
<line x1="180.5" y1="285.4" x2="182.5" y2="285.4" stroke="#000" stroke-width="0.8"/>
<text x="179.3" y="287.2" font-size="5.1" font-weight="bold" text-anchor="end" style="stroke-width:0.05px">0</text>
<line x1="182.5" y1="285.4" x2="182.5" y2="287" stroke="#000" stroke-width="0.8"/>
<text x="182.5" y="293.2" font-size="4.7" font-weight="bold" text-anchor="middle" style="stroke-width:0.02px">0</text>
<line x1="204.6" y1="285.4" x2="204.6" y2="287" stroke="#000" stroke-width="0.8"/>
<text x="204.6" y="293.2" font-size="4.7" font-weight="bold" text-anchor="middle" style="stroke-width:0.02px">2</text>
<line x1="226.7" y1="285.4" x2="226.7" y2="287" stroke="#000" stroke-width="0.8"/>
<text x="226.7" y="293.2" font-size="4.7" font-weight="bold" text-anchor="middle" style="stroke-width:0.02px">4</text>
<line x1="248.8" y1="285.4" x2="248.8" y2="287" stroke="#000" stroke-width="0.8"/>
<text x="248.8" y="293.2" font-size="4.7" font-weight="bold" text-anchor="middle" style="stroke-width:0.02px">6</text>
<line x1="270.9" y1="285.4" x2="270.9" y2="287" stroke="#000" stroke-width="0.8"/>
<text x="270.9" y="293.2" font-size="4.7" font-weight="bold" text-anchor="middle" style="stroke-width:0.02px">8</text>
<polyline points="182.5,243.4 204.6,269.9 215.65,283.7 226.7,284.9 248.8,285.1 270.9,285.1" fill="none" stroke="#222" stroke-width="0.6"/>
<polyline points="182.5,241.4 204.6,261 215.65,276 226.7,284.2 248.8,284.6 270.9,284.4" fill="none" stroke="#222" stroke-width="0.6"/>
<polyline points="182.5,233.4 204.6,259.4 215.65,278.8 226.7,283.4 248.8,280.4 270.9,281.7" fill="none" stroke="#222" stroke-width="0.6"/>
<polyline points="182.5,227.4 204.6,238.4 215.65,278.8 226.7,282.9 248.8,283.9 270.9,283.9" fill="none" stroke="#222" stroke-width="0.6"/>
<polygon points="182.5,241.4 184.5,243.4 182.5,245.4 180.5,243.4" fill="#000"/>
<polygon points="204.6,267.9 206.6,269.9 204.6,271.9 202.6,269.9" fill="#000"/>
<polygon points="215.65,281.7 217.65,283.7 215.65,285.7 213.65,283.7" fill="#000"/>
<polygon points="226.7,282.9 228.7,284.9 226.7,286.9 224.7,284.9" fill="#000"/>
<polygon points="248.8,283.1 250.8,285.1 248.8,287.1 246.8,285.1" fill="#000"/>
<polygon points="270.9,283.1 272.9,285.1 270.9,287.1 268.9,285.1" fill="#000"/>
<polygon points="182.5,231.5 184.4,234.92 180.6,234.92" fill="#000"/>
<polygon points="204.6,257.5 206.5,260.92 202.7,260.92" fill="#000"/>
<polygon points="215.65,276.9 217.55,280.32 213.75,280.32" fill="#000"/>
<polygon points="226.7,281.5 228.6,284.92 224.8,284.92" fill="#000"/>
<polygon points="248.8,278.5 250.7,281.92 246.9,281.92" fill="#000"/>
<polygon points="270.9,279.8 272.8,283.22 269,283.22" fill="#000"/>
<circle cx="182.5" cy="227.4" r="1.9" fill="#000"/>
<circle cx="204.6" cy="238.4" r="1.9" fill="#000"/>
<circle cx="215.65" cy="278.8" r="1.9" fill="#000"/>
<circle cx="226.7" cy="282.9" r="1.9" fill="#000"/>
<circle cx="248.8" cy="283.9" r="1.9" fill="#000"/>
<circle cx="270.9" cy="283.9" r="1.9" fill="#000"/>
<rect x="180.8" y="239.7" width="3.4" height="3.4" fill="#000"/>
<rect x="202.9" y="259.3" width="3.4" height="3.4" fill="#000"/>
<rect x="213.95" y="274.3" width="3.4" height="3.4" fill="#000"/>
<rect x="225" y="282.5" width="3.4" height="3.4" fill="#000"/>
<rect x="247.1" y="282.9" width="3.4" height="3.4" fill="#000"/>
<rect x="269.2" y="282.7" width="3.4" height="3.4" fill="#000"/>
<text x="226.7" y="300.5" font-size="7.5" font-weight="bold" text-anchor="middle">Days</text>
<text x="298.8" y="8.7" font-size="11" font-weight="bold" text-anchor="start">D</text>
<text x="332.4" y="7.9" font-size="9.2" font-weight="bold" font-style="italic" text-anchor="start">Brachyury</text>
<line x1="311.5" y1="14" x2="311.5" y2="82" stroke="#000" stroke-width="1"/>
<line x1="311.5" y1="82" x2="395.6" y2="82" stroke="#000" stroke-width="1.1"/>
<line x1="309.5" y1="14.65" x2="311.5" y2="14.65" stroke="#000" stroke-width="0.8"/>
<text x="308.3" y="16.45" font-size="5.1" font-weight="bold" text-anchor="end" style="stroke-width:0.05px">0.09</text>
<line x1="309.5" y1="37.1" x2="311.5" y2="37.1" stroke="#000" stroke-width="0.8"/>
<text x="308.3" y="38.9" font-size="5.1" font-weight="bold" text-anchor="end" style="stroke-width:0.05px">0.06</text>
<line x1="309.5" y1="59.55" x2="311.5" y2="59.55" stroke="#000" stroke-width="0.8"/>
<text x="308.3" y="61.35" font-size="5.1" font-weight="bold" text-anchor="end" style="stroke-width:0.05px">0.03</text>
<line x1="309.5" y1="82" x2="311.5" y2="82" stroke="#000" stroke-width="0.8"/>
<text x="308.3" y="83.8" font-size="5.1" font-weight="bold" text-anchor="end" style="stroke-width:0.05px">0</text>
<line x1="311.5" y1="82" x2="311.5" y2="83.6" stroke="#000" stroke-width="0.8"/>
<text x="311.5" y="89.8" font-size="4.7" font-weight="bold" text-anchor="middle" style="stroke-width:0.02px">0</text>
<line x1="332.4" y1="82" x2="332.4" y2="83.6" stroke="#000" stroke-width="0.8"/>
<text x="332.4" y="89.8" font-size="4.7" font-weight="bold" text-anchor="middle" style="stroke-width:0.02px">2</text>
<line x1="353.3" y1="82" x2="353.3" y2="83.6" stroke="#000" stroke-width="0.8"/>
<text x="353.3" y="89.8" font-size="4.7" font-weight="bold" text-anchor="middle" style="stroke-width:0.02px">4</text>
<line x1="374.2" y1="82" x2="374.2" y2="83.6" stroke="#000" stroke-width="0.8"/>
<text x="374.2" y="89.8" font-size="4.7" font-weight="bold" text-anchor="middle" style="stroke-width:0.02px">6</text>
<line x1="395.1" y1="82" x2="395.1" y2="83.6" stroke="#000" stroke-width="0.8"/>
<text x="395.1" y="89.8" font-size="4.7" font-weight="bold" text-anchor="middle" style="stroke-width:0.02px">8</text>
<polyline points="311.5,82 332.4,82 342.85,22.88 353.3,65.39 374.2,80.88 395.1,82" fill="none" stroke="#222" stroke-width="0.6"/>
<polyline points="311.5,82 332.4,82 342.85,58.8 353.3,24.38 374.2,82 395.1,82" fill="none" stroke="#222" stroke-width="0.6"/>
<polyline points="311.5,82 332.4,82 342.85,82 353.3,35.6 374.2,76.91 395.1,81.25" fill="none" stroke="#222" stroke-width="0.6"/>
<polyline points="311.5,82 332.4,82 342.85,82 353.3,54.69 374.2,67.26 395.1,80.35" fill="none" stroke="#222" stroke-width="0.6"/>
<polygon points="311.5,80 313.5,82 311.5,84 309.5,82" fill="#000"/>
<polygon points="332.4,80 334.4,82 332.4,84 330.4,82" fill="#000"/>
<polygon points="342.85,20.88 344.85,22.88 342.85,24.88 340.85,22.88" fill="#000"/>
<polygon points="353.3,63.39 355.3,65.39 353.3,67.39 351.3,65.39" fill="#000"/>
<polygon points="374.2,78.88 376.2,80.88 374.2,82.88 372.2,80.88" fill="#000"/>
<polygon points="395.1,80 397.1,82 395.1,84 393.1,82" fill="#000"/>
<polygon points="311.5,80.1 313.4,83.52 309.6,83.52" fill="#000"/>
<polygon points="332.4,80.1 334.3,83.52 330.5,83.52" fill="#000"/>
<polygon points="342.85,80.1 344.75,83.52 340.95,83.52" fill="#000"/>
<polygon points="353.3,33.7 355.2,37.12 351.4,37.12" fill="#000"/>
<polygon points="374.2,75.01 376.1,78.43 372.3,78.43" fill="#000"/>
<polygon points="395.1,79.35 397,82.77 393.2,82.77" fill="#000"/>
<circle cx="311.5" cy="82" r="1.9" fill="#000"/>
<circle cx="332.4" cy="82" r="1.9" fill="#000"/>
<circle cx="342.85" cy="82" r="1.9" fill="#000"/>
<circle cx="353.3" cy="54.69" r="1.9" fill="#000"/>
<circle cx="374.2" cy="67.26" r="1.9" fill="#000"/>
<circle cx="395.1" cy="80.35" r="1.9" fill="#000"/>
<rect x="309.8" y="80.3" width="3.4" height="3.4" fill="#000"/>
<rect x="330.7" y="80.3" width="3.4" height="3.4" fill="#000"/>
<rect x="341.15" y="57.1" width="3.4" height="3.4" fill="#000"/>
<rect x="351.6" y="22.68" width="3.4" height="3.4" fill="#000"/>
<rect x="372.5" y="80.3" width="3.4" height="3.4" fill="#000"/>
<rect x="393.4" y="80.3" width="3.4" height="3.4" fill="#000"/>
<text x="0" y="0" font-size="7.3" font-weight="bold" text-anchor="middle" style="stroke-width:0.15px" transform="translate(292.6,46.9) rotate(-90)">Relative expression</text>
<text x="413.8" y="8.6" font-size="11" font-weight="bold" text-anchor="start">E</text>
<text x="468.6" y="8.5" font-size="9.2" font-weight="bold" font-style="italic" text-anchor="start">Scl</text>
<line x1="431.6" y1="10.5" x2="431.6" y2="82.6" stroke="#000" stroke-width="1"/>
<line x1="431.6" y1="82.6" x2="517.86" y2="82.6" stroke="#000" stroke-width="1.1"/>
<line x1="429.6" y1="20.95" x2="431.6" y2="20.95" stroke="#000" stroke-width="0.8"/>
<text x="428.4" y="22.75" font-size="5.1" font-weight="bold" text-anchor="end" style="stroke-width:0.05px">0.012</text>
<line x1="429.6" y1="41.5" x2="431.6" y2="41.5" stroke="#000" stroke-width="0.8"/>
<text x="428.4" y="43.3" font-size="5.1" font-weight="bold" text-anchor="end" style="stroke-width:0.05px">0.008</text>
<line x1="429.6" y1="62.05" x2="431.6" y2="62.05" stroke="#000" stroke-width="0.8"/>
<text x="428.4" y="63.85" font-size="5.1" font-weight="bold" text-anchor="end" style="stroke-width:0.05px">0.004</text>
<line x1="429.6" y1="82.6" x2="431.6" y2="82.6" stroke="#000" stroke-width="0.8"/>
<text x="428.4" y="84.4" font-size="5.1" font-weight="bold" text-anchor="end" style="stroke-width:0.05px">0</text>
<line x1="431.6" y1="82.6" x2="431.6" y2="84.2" stroke="#000" stroke-width="0.8"/>
<text x="431.6" y="90.4" font-size="4.7" font-weight="bold" text-anchor="middle" style="stroke-width:0.02px">0</text>
<line x1="453.04" y1="82.6" x2="453.04" y2="84.2" stroke="#000" stroke-width="0.8"/>
<text x="453.04" y="90.4" font-size="4.7" font-weight="bold" text-anchor="middle" style="stroke-width:0.02px">2</text>
<line x1="474.48" y1="82.6" x2="474.48" y2="84.2" stroke="#000" stroke-width="0.8"/>
<text x="474.48" y="90.4" font-size="4.7" font-weight="bold" text-anchor="middle" style="stroke-width:0.02px">4</text>
<line x1="495.92" y1="82.6" x2="495.92" y2="84.2" stroke="#000" stroke-width="0.8"/>
<text x="495.92" y="90.4" font-size="4.7" font-weight="bold" text-anchor="middle" style="stroke-width:0.02px">6</text>
<line x1="517.36" y1="82.6" x2="517.36" y2="84.2" stroke="#000" stroke-width="0.8"/>
<text x="517.36" y="90.4" font-size="4.7" font-weight="bold" text-anchor="middle" style="stroke-width:0.02px">8</text>
<polyline points="431.6,82.6 453.04,81.57 463.76,81.57 474.48,69.76 495.92,40.47 517.36,18.38" fill="none" stroke="#222" stroke-width="0.6"/>
<polyline points="431.6,82.6 453.04,80.54 463.76,81.57 474.48,72.84 495.92,43.55 517.36,20.95" fill="none" stroke="#222" stroke-width="0.6"/>
<polyline points="431.6,82.6 453.04,82.09 463.76,82.09 474.48,82.6 495.92,71.3 517.36,15.81" fill="none" stroke="#222" stroke-width="0.6"/>
<polyline points="431.6,82.6 453.04,82.09 463.76,81.57 474.48,82.6 495.92,67.7 517.36,17.35" fill="none" stroke="#222" stroke-width="0.6"/>
<polygon points="431.6,80.6 433.6,82.6 431.6,84.6 429.6,82.6" fill="#000"/>
<polygon points="453.04,79.57 455.04,81.57 453.04,83.57 451.04,81.57" fill="#000"/>
<polygon points="463.76,79.57 465.76,81.57 463.76,83.57 461.76,81.57" fill="#000"/>
<polygon points="474.48,67.76 476.48,69.76 474.48,71.76 472.48,69.76" fill="#000"/>
<polygon points="495.92,38.47 497.92,40.47 495.92,42.47 493.92,40.47" fill="#000"/>
<polygon points="517.36,16.38 519.36,18.38 517.36,20.38 515.36,18.38" fill="#000"/>
<polygon points="431.6,80.7 433.5,84.12 429.7,84.12" fill="#000"/>
<polygon points="453.04,80.19 454.94,83.61 451.14,83.61" fill="#000"/>
<polygon points="463.76,80.19 465.66,83.61 461.86,83.61" fill="#000"/>
<polygon points="474.48,80.7 476.38,84.12 472.58,84.12" fill="#000"/>
<polygon points="495.92,69.4 497.82,72.82 494.02,72.82" fill="#000"/>
<polygon points="517.36,13.91 519.26,17.33 515.46,17.33" fill="#000"/>
<circle cx="431.6" cy="82.6" r="1.9" fill="#000"/>
<circle cx="453.04" cy="82.09" r="1.9" fill="#000"/>
<circle cx="463.76" cy="81.57" r="1.9" fill="#000"/>
<circle cx="474.48" cy="82.6" r="1.9" fill="#000"/>
<circle cx="495.92" cy="67.7" r="1.9" fill="#000"/>
<circle cx="517.36" cy="17.35" r="1.9" fill="#000"/>
<rect x="429.9" y="80.9" width="3.4" height="3.4" fill="#000"/>
<rect x="451.34" y="78.84" width="3.4" height="3.4" fill="#000"/>
<rect x="462.06" y="79.87" width="3.4" height="3.4" fill="#000"/>
<rect x="472.78" y="71.14" width="3.4" height="3.4" fill="#000"/>
<rect x="494.22" y="41.85" width="3.4" height="3.4" fill="#000"/>
<rect x="515.66" y="19.25" width="3.4" height="3.4" fill="#000"/>
<text x="299.2" y="110.6" font-size="11" font-weight="bold" text-anchor="start">F</text>
<text x="346.5" y="111" font-size="9.2" font-weight="bold" font-style="italic" text-anchor="start">Klf1</text>
<line x1="311.9" y1="115.9" x2="311.9" y2="184.2" stroke="#000" stroke-width="1"/>
<line x1="311.9" y1="184.2" x2="398.4" y2="184.2" stroke="#000" stroke-width="1.1"/>
<line x1="309.9" y1="116.4" x2="311.9" y2="116.4" stroke="#000" stroke-width="0.8"/>
<text x="308.7" y="118.2" font-size="5.1" font-weight="bold" text-anchor="end" style="stroke-width:0.05px">0.003</text>
<line x1="309.9" y1="139" x2="311.9" y2="139" stroke="#000" stroke-width="0.8"/>
<text x="308.7" y="140.8" font-size="5.1" font-weight="bold" text-anchor="end" style="stroke-width:0.05px">0.002</text>
<line x1="309.9" y1="161.6" x2="311.9" y2="161.6" stroke="#000" stroke-width="0.8"/>
<text x="308.7" y="163.4" font-size="5.1" font-weight="bold" text-anchor="end" style="stroke-width:0.05px">0.001</text>
<line x1="309.9" y1="184.2" x2="311.9" y2="184.2" stroke="#000" stroke-width="0.8"/>
<text x="308.7" y="186" font-size="5.1" font-weight="bold" text-anchor="end" style="stroke-width:0.05px">0</text>
<line x1="311.9" y1="184.2" x2="311.9" y2="185.8" stroke="#000" stroke-width="0.8"/>
<text x="311.9" y="192" font-size="4.7" font-weight="bold" text-anchor="middle" style="stroke-width:0.02px">0</text>
<line x1="333.4" y1="184.2" x2="333.4" y2="185.8" stroke="#000" stroke-width="0.8"/>
<text x="333.4" y="192" font-size="4.7" font-weight="bold" text-anchor="middle" style="stroke-width:0.02px">2</text>
<line x1="354.9" y1="184.2" x2="354.9" y2="185.8" stroke="#000" stroke-width="0.8"/>
<text x="354.9" y="192" font-size="4.7" font-weight="bold" text-anchor="middle" style="stroke-width:0.02px">4</text>
<line x1="376.4" y1="184.2" x2="376.4" y2="185.8" stroke="#000" stroke-width="0.8"/>
<text x="376.4" y="192" font-size="4.7" font-weight="bold" text-anchor="middle" style="stroke-width:0.02px">6</text>
<line x1="397.9" y1="184.2" x2="397.9" y2="185.8" stroke="#000" stroke-width="0.8"/>
<text x="397.9" y="192" font-size="4.7" font-weight="bold" text-anchor="middle" style="stroke-width:0.02px">8</text>
<polyline points="311.9,184.2 333.4,184.2 344.15,184.2 354.9,181.94 376.4,131.09 397.9,153.24" fill="none" stroke="#222" stroke-width="0.6"/>
<polyline points="311.9,184.2 333.4,184.2 344.15,184.2 354.9,183.07 376.4,129.96 397.9,145.78" fill="none" stroke="#222" stroke-width="0.6"/>
<polyline points="311.9,184.2 333.4,184.2 344.15,184.2 354.9,184.2 376.4,180.81 397.9,163.86" fill="none" stroke="#222" stroke-width="0.6"/>
<polyline points="311.9,184.2 333.4,184.2 344.15,184.2 354.9,184.2 376.4,181.94 397.9,167.02" fill="none" stroke="#222" stroke-width="0.6"/>
<polygon points="311.9,182.2 313.9,184.2 311.9,186.2 309.9,184.2" fill="#000"/>
<polygon points="333.4,182.2 335.4,184.2 333.4,186.2 331.4,184.2" fill="#000"/>
<polygon points="344.15,182.2 346.15,184.2 344.15,186.2 342.15,184.2" fill="#000"/>
<polygon points="354.9,179.94 356.9,181.94 354.9,183.94 352.9,181.94" fill="#000"/>
<polygon points="376.4,129.09 378.4,131.09 376.4,133.09 374.4,131.09" fill="#000"/>
<polygon points="397.9,151.24 399.9,153.24 397.9,155.24 395.9,153.24" fill="#000"/>
<polygon points="311.9,182.3 313.8,185.72 310,185.72" fill="#000"/>
<polygon points="333.4,182.3 335.3,185.72 331.5,185.72" fill="#000"/>
<polygon points="344.15,182.3 346.05,185.72 342.25,185.72" fill="#000"/>
<polygon points="354.9,182.3 356.8,185.72 353,185.72" fill="#000"/>
<polygon points="376.4,178.91 378.3,182.33 374.5,182.33" fill="#000"/>
<polygon points="397.9,161.96 399.8,165.38 396,165.38" fill="#000"/>
<circle cx="311.9" cy="184.2" r="1.9" fill="#000"/>
<circle cx="333.4" cy="184.2" r="1.9" fill="#000"/>
<circle cx="344.15" cy="184.2" r="1.9" fill="#000"/>
<circle cx="354.9" cy="184.2" r="1.9" fill="#000"/>
<circle cx="376.4" cy="181.94" r="1.9" fill="#000"/>
<circle cx="397.9" cy="167.02" r="1.9" fill="#000"/>
<rect x="310.2" y="182.5" width="3.4" height="3.4" fill="#000"/>
<rect x="331.7" y="182.5" width="3.4" height="3.4" fill="#000"/>
<rect x="342.45" y="182.5" width="3.4" height="3.4" fill="#000"/>
<rect x="353.2" y="181.37" width="3.4" height="3.4" fill="#000"/>
<rect x="374.7" y="128.26" width="3.4" height="3.4" fill="#000"/>
<rect x="396.2" y="144.08" width="3.4" height="3.4" fill="#000"/>
<text x="0" y="0" font-size="7.3" font-weight="bold" text-anchor="middle" style="stroke-width:0.15px" transform="translate(292.6,147.2) rotate(-90)">Relative expression</text>
<text x="413.4" y="110.9" font-size="11" font-weight="bold" text-anchor="start">G</text>
<text x="462.6" y="111" font-size="9.2" font-weight="bold" font-style="italic" text-anchor="start">Gata1</text>
<line x1="431.3" y1="114.4" x2="431.3" y2="182.2" stroke="#000" stroke-width="1"/>
<line x1="431.3" y1="182.2" x2="517.88" y2="182.2" stroke="#000" stroke-width="1.1"/>
<line x1="429.3" y1="123.4" x2="431.3" y2="123.4" stroke="#000" stroke-width="0.8"/>
<text x="428.1" y="125.2" font-size="5.1" font-weight="bold" text-anchor="end" style="stroke-width:0.05px">0.015</text>
<line x1="429.3" y1="143" x2="431.3" y2="143" stroke="#000" stroke-width="0.8"/>
<text x="428.1" y="144.8" font-size="5.1" font-weight="bold" text-anchor="end" style="stroke-width:0.05px">0.01</text>
<line x1="429.3" y1="162.6" x2="431.3" y2="162.6" stroke="#000" stroke-width="0.8"/>
<text x="428.1" y="164.4" font-size="5.1" font-weight="bold" text-anchor="end" style="stroke-width:0.05px">0.005</text>
<line x1="429.3" y1="182.2" x2="431.3" y2="182.2" stroke="#000" stroke-width="0.8"/>
<text x="428.1" y="184" font-size="5.1" font-weight="bold" text-anchor="end" style="stroke-width:0.05px">0</text>
<line x1="431.3" y1="182.2" x2="431.3" y2="183.8" stroke="#000" stroke-width="0.8"/>
<text x="431.3" y="190" font-size="4.7" font-weight="bold" text-anchor="middle" style="stroke-width:0.02px">0</text>
<line x1="452.82" y1="182.2" x2="452.82" y2="183.8" stroke="#000" stroke-width="0.8"/>
<text x="452.82" y="190" font-size="4.7" font-weight="bold" text-anchor="middle" style="stroke-width:0.02px">2</text>
<line x1="474.34" y1="182.2" x2="474.34" y2="183.8" stroke="#000" stroke-width="0.8"/>
<text x="474.34" y="190" font-size="4.7" font-weight="bold" text-anchor="middle" style="stroke-width:0.02px">4</text>
<line x1="495.86" y1="182.2" x2="495.86" y2="183.8" stroke="#000" stroke-width="0.8"/>
<text x="495.86" y="190" font-size="4.7" font-weight="bold" text-anchor="middle" style="stroke-width:0.02px">6</text>
<line x1="517.38" y1="182.2" x2="517.38" y2="183.8" stroke="#000" stroke-width="0.8"/>
<text x="517.38" y="190" font-size="4.7" font-weight="bold" text-anchor="middle" style="stroke-width:0.02px">8</text>
<polyline points="431.3,182.2 452.82,182.2 463.58,182.2 474.34,177.5 495.86,124.18 517.38,138.3" fill="none" stroke="#222" stroke-width="0.6"/>
<polyline points="431.3,182.2 452.82,182.2 463.58,182.2 474.34,182.2 495.86,125.36 517.38,123.4" fill="none" stroke="#222" stroke-width="0.6"/>
<polyline points="431.3,182.2 452.82,182.2 463.58,182.2 474.34,182.2 495.86,175.54 517.38,132.02" fill="none" stroke="#222" stroke-width="0.6"/>
<polyline points="431.3,182.2 452.82,182.2 463.58,182.2 474.34,182.2 495.86,173.97 517.38,117.52" fill="none" stroke="#222" stroke-width="0.6"/>
<polygon points="431.3,180.2 433.3,182.2 431.3,184.2 429.3,182.2" fill="#000"/>
<polygon points="452.82,180.2 454.82,182.2 452.82,184.2 450.82,182.2" fill="#000"/>
<polygon points="463.58,180.2 465.58,182.2 463.58,184.2 461.58,182.2" fill="#000"/>
<polygon points="474.34,175.5 476.34,177.5 474.34,179.5 472.34,177.5" fill="#000"/>
<polygon points="495.86,122.18 497.86,124.18 495.86,126.18 493.86,124.18" fill="#000"/>
<polygon points="517.38,136.3 519.38,138.3 517.38,140.3 515.38,138.3" fill="#000"/>
<polygon points="431.3,180.3 433.2,183.72 429.4,183.72" fill="#000"/>
<polygon points="452.82,180.3 454.72,183.72 450.92,183.72" fill="#000"/>
<polygon points="463.58,180.3 465.48,183.72 461.68,183.72" fill="#000"/>
<polygon points="474.34,180.3 476.24,183.72 472.44,183.72" fill="#000"/>
<polygon points="495.86,173.64 497.76,177.06 493.96,177.06" fill="#000"/>
<polygon points="517.38,130.12 519.28,133.54 515.48,133.54" fill="#000"/>
<circle cx="431.3" cy="182.2" r="1.9" fill="#000"/>
<circle cx="452.82" cy="182.2" r="1.9" fill="#000"/>
<circle cx="463.58" cy="182.2" r="1.9" fill="#000"/>
<circle cx="474.34" cy="182.2" r="1.9" fill="#000"/>
<circle cx="495.86" cy="173.97" r="1.9" fill="#000"/>
<circle cx="517.38" cy="117.52" r="1.9" fill="#000"/>
<rect x="429.6" y="180.5" width="3.4" height="3.4" fill="#000"/>
<rect x="451.12" y="180.5" width="3.4" height="3.4" fill="#000"/>
<rect x="461.88" y="180.5" width="3.4" height="3.4" fill="#000"/>
<rect x="472.64" y="180.5" width="3.4" height="3.4" fill="#000"/>
<rect x="494.16" y="123.66" width="3.4" height="3.4" fill="#000"/>
<rect x="515.68" y="121.7" width="3.4" height="3.4" fill="#000"/>
<text x="475.3" y="200.3" font-size="7.5" font-weight="bold" text-anchor="middle">Days</text>
<text x="299.2" y="212.3" font-size="11" font-weight="bold" text-anchor="start">H</text>
<text x="342.6" y="212.7" font-size="9.2" font-weight="bold" font-style="italic" text-anchor="start">Gata2</text>
<line x1="312" y1="217" x2="312" y2="285.4" stroke="#000" stroke-width="1"/>
<line x1="312" y1="285.4" x2="398.9" y2="285.4" stroke="#000" stroke-width="1.1"/>
<line x1="310" y1="217.15" x2="312" y2="217.15" stroke="#000" stroke-width="0.8"/>
<text x="308.8" y="218.95" font-size="5.1" font-weight="bold" text-anchor="end" style="stroke-width:0.05px">0.005</text>
<line x1="310" y1="244.45" x2="312" y2="244.45" stroke="#000" stroke-width="0.8"/>
<text x="308.8" y="246.25" font-size="5.1" font-weight="bold" text-anchor="end" style="stroke-width:0.05px">0.003</text>
<line x1="310" y1="271.75" x2="312" y2="271.75" stroke="#000" stroke-width="0.8"/>
<text x="308.8" y="273.55" font-size="5.1" font-weight="bold" text-anchor="end" style="stroke-width:0.05px">0.001</text>
<line x1="310" y1="285.4" x2="312" y2="285.4" stroke="#000" stroke-width="0.8"/>
<text x="308.8" y="287.2" font-size="5.1" font-weight="bold" text-anchor="end" style="stroke-width:0.05px">0</text>
<line x1="310" y1="230.8" x2="312" y2="230.8" stroke="#000" stroke-width="0.8"/>
<line x1="310" y1="258.1" x2="312" y2="258.1" stroke="#000" stroke-width="0.8"/>
<line x1="312" y1="285.4" x2="312" y2="287" stroke="#000" stroke-width="0.8"/>
<text x="312" y="293.2" font-size="4.7" font-weight="bold" text-anchor="middle" style="stroke-width:0.02px">0</text>
<line x1="333.6" y1="285.4" x2="333.6" y2="287" stroke="#000" stroke-width="0.8"/>
<text x="333.6" y="293.2" font-size="4.7" font-weight="bold" text-anchor="middle" style="stroke-width:0.02px">2</text>
<line x1="355.2" y1="285.4" x2="355.2" y2="287" stroke="#000" stroke-width="0.8"/>
<text x="355.2" y="293.2" font-size="4.7" font-weight="bold" text-anchor="middle" style="stroke-width:0.02px">4</text>
<line x1="376.8" y1="285.4" x2="376.8" y2="287" stroke="#000" stroke-width="0.8"/>
<text x="376.8" y="293.2" font-size="4.7" font-weight="bold" text-anchor="middle" style="stroke-width:0.02px">6</text>
<line x1="398.4" y1="285.4" x2="398.4" y2="287" stroke="#000" stroke-width="0.8"/>
<text x="398.4" y="293.2" font-size="4.7" font-weight="bold" text-anchor="middle" style="stroke-width:0.02px">8</text>
<polyline points="312,273.11 333.6,277.21 344.4,279.94 355.2,262.19 376.8,271.07 398.4,274.07" fill="none" stroke="#222" stroke-width="0.6"/>
<polyline points="312,274.48 333.6,281.3 344.4,278.57 355.2,229.43 376.8,254.69 398.4,249.91" fill="none" stroke="#222" stroke-width="0.6"/>
<polyline points="312,273.11 333.6,278.57 344.4,278.57 355.2,282.67 376.8,241.72 398.4,268.34" fill="none" stroke="#222" stroke-width="0.6"/>
<polyline points="312,275.84 333.6,282.67 344.4,278.57 355.2,282.67 376.8,247.18 398.4,268.34" fill="none" stroke="#222" stroke-width="0.6"/>
<polygon points="312,271.11 314,273.11 312,275.11 310,273.11" fill="#000"/>
<polygon points="333.6,275.21 335.6,277.21 333.6,279.21 331.6,277.21" fill="#000"/>
<polygon points="344.4,277.94 346.4,279.94 344.4,281.94 342.4,279.94" fill="#000"/>
<polygon points="355.2,260.19 357.2,262.19 355.2,264.19 353.2,262.19" fill="#000"/>
<polygon points="376.8,269.07 378.8,271.07 376.8,273.07 374.8,271.07" fill="#000"/>
<polygon points="398.4,272.07 400.4,274.07 398.4,276.07 396.4,274.07" fill="#000"/>
<polygon points="312,271.21 313.9,274.63 310.1,274.63" fill="#000"/>
<polygon points="333.6,276.68 335.5,280.09 331.7,280.09" fill="#000"/>
<polygon points="344.4,276.68 346.3,280.09 342.5,280.09" fill="#000"/>
<polygon points="355.2,280.77 357.1,284.19 353.3,284.19" fill="#000"/>
<polygon points="376.8,239.82 378.7,243.24 374.9,243.24" fill="#000"/>
<polygon points="398.4,266.44 400.3,269.86 396.5,269.86" fill="#000"/>
<circle cx="312" cy="275.84" r="1.9" fill="#000"/>
<circle cx="333.6" cy="282.67" r="1.9" fill="#000"/>
<circle cx="344.4" cy="278.57" r="1.9" fill="#000"/>
<circle cx="355.2" cy="282.67" r="1.9" fill="#000"/>
<circle cx="376.8" cy="247.18" r="1.9" fill="#000"/>
<circle cx="398.4" cy="268.34" r="1.9" fill="#000"/>
<rect x="310.3" y="272.78" width="3.4" height="3.4" fill="#000"/>
<rect x="331.9" y="279.6" width="3.4" height="3.4" fill="#000"/>
<rect x="342.7" y="276.88" width="3.4" height="3.4" fill="#000"/>
<rect x="353.5" y="227.73" width="3.4" height="3.4" fill="#000"/>
<rect x="375.1" y="252.99" width="3.4" height="3.4" fill="#000"/>
<rect x="396.7" y="248.21" width="3.4" height="3.4" fill="#000"/>
<text x="0" y="0" font-size="7.3" font-weight="bold" text-anchor="middle" style="stroke-width:0.15px" transform="translate(292.6,249.6) rotate(-90)">Relative expression</text>
<text x="356.2" y="300.5" font-size="7.5" font-weight="bold" text-anchor="middle">Days</text>
<line x1="449.5" y1="249.2" x2="458.5" y2="249.2" stroke="#000" stroke-width="0.9"/>
<polygon points="453.9,247.2 455.9,249.2 453.9,251.2 451.9,249.2" fill="#000"/>
<text x="460.8" y="251.4" font-size="6.2" font-weight="bold" text-anchor="start" style="stroke-width:0.15px">+/+</text>
<line x1="449.5" y1="255.4" x2="458.5" y2="255.4" stroke="#000" stroke-width="0.9"/>
<rect x="452.2" y="253.7" width="3.4" height="3.4" fill="#000"/>
<text x="460.8" y="257.6" font-size="6.2" font-weight="bold" text-anchor="start" style="stroke-width:0.15px">+/-</text>
<line x1="449.5" y1="261.8" x2="458.5" y2="261.8" stroke="#000" stroke-width="0.9"/>
<polygon points="453.9,259.9 455.8,263.32 452,263.32" fill="#000"/>
<text x="462.8" y="264" font-size="6.2" font-weight="bold" text-anchor="start" style="stroke-width:0.15px">-/-</text>
<line x1="449.5" y1="268.6" x2="458.5" y2="268.6" stroke="#000" stroke-width="0.9"/>
<circle cx="453.9" cy="268.6" r="1.9" fill="#000"/>
<text x="462.8" y="270.8" font-size="6.2" font-weight="bold" text-anchor="start" style="stroke-width:0.15px">-/-</text>
<text x="472.3" y="264" font-size="6.2" font-weight="bold" text-anchor="start" style="stroke-width:0.15px">Clone NA</text>
<text x="472.3" y="270.8" font-size="6.2" font-weight="bold" text-anchor="start" style="stroke-width:0.15px">Clone NB</text>
</svg>
</body></html>
